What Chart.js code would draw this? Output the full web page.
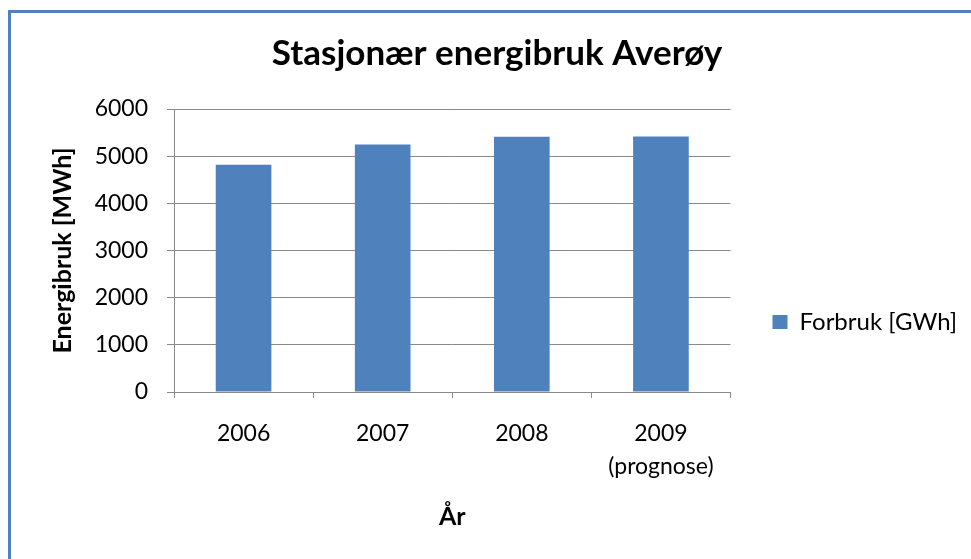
<!DOCTYPE html>
<html>
<head>
<meta charset="utf-8">
<script src="https://cdn.jsdelivr.net/npm/chart.js@4"></script>
<style>
  html, body { margin: 0; padding: 0; background: #fff; }
  #wrap { position: relative; width: 971px; height: 559px; overflow: hidden; }
  #ramme {
    position: absolute; left: 8px; top: 10px; width: 1000px; height: 600px;
    border: 3px solid #4f81bd; pointer-events: none;
  }
</style>
</head>
<body>
<div id="wrap">
  <canvas id="grafEnergi" width="971" height="559"></canvas>
  <div id="ramme"></div>
</div>
<script>
// data lest av figuren
var aar = ['2006', '2007', '2008', ['2009', '(prognose)']];
var forbruk = [4820, 5245, 5410, 5415];
var serieNavn = 'Forbruk [GWh]';
var yMin = 0, yMax = 6000, ySteg = 1000;

var font = 'Lato';
var gra = '#8a8a8a';
var bla = '#4f81bd';
var venstre = 30; // skyver tittelen litt mot høyre, som i originalen

new Chart(document.getElementById('grafEnergi'), {
  type: 'bar',
  data: {
    labels: aar,
    datasets: [{
      label: serieNavn,
      data: forbruk,
      backgroundColor: bla,
      borderWidth: 0,
      categoryPercentage: 1,
      barPercentage: 0.4
    }]
  },
  options: {
    responsive: false,
    animation: false,
    layout: { padding: { left: venstre, top: 0, bottom: 0, right: 7 } },
    plugins: {
      tooltip: { enabled: false },
      title: {
        display: true,
        text: 'Stasjonær energibruk Averøy',
        color: '#000',
        font: { family: font, size: 35, weight: 'bold', lineHeight: 1.2 },
        padding: { top: 33, bottom: 34 }
      },
      legend: {
        position: 'right',
        align: 'center',
        title: { display: true, text: ' ', font: { size: 10, lineHeight: 1 }, padding: { top: 75, bottom: 0 } },
        labels: {
          boxWidth: 15,
          boxHeight: 14,
          padding: 42,
          color: '#000',
          font: { family: font, size: 24 }
        }
      }
    },
    scales: {
      x: {
        afterFit: function (s) { s.height = 167; },
        grid: { display: true, drawOnChartArea: false, drawTicks: true, tickLength: 6, color: gra, offset: true },
        border: { color: gra },
        ticks: { color: '#000', padding: 19.6, font: { family: font, size: 23, lineHeight: 1.42 } },
        title: {
          display: true, text: 'År', color: '#000',
          font: { family: font, size: 25, weight: 'bold', lineHeight: 1.2 },
          padding: { top: 0, bottom: 27 }
        }
      },
      y: {
        min: yMin,
        max: yMax,
        afterFit: function (s) { s.width = 174 - venstre; },
        grid: { color: gra, tickLength: 7 },
        border: { color: gra },
        ticks: {
          stepSize: ySteg, color: '#000', padding: 19,
          font: { family: font, size: 23, lineHeight: 1.42 },
          callback: function (v) { return String(v); }
        },
        title: {
          display: true, text: 'Energibruk [MWh]', color: '#000',
          font: { family: font, size: 25, weight: 'bold', lineHeight: 1.2 },
          padding: { top: 48 - venstre, bottom: 0 }
        }
      }
    }
  }
});
</script>
</body>
</html>
